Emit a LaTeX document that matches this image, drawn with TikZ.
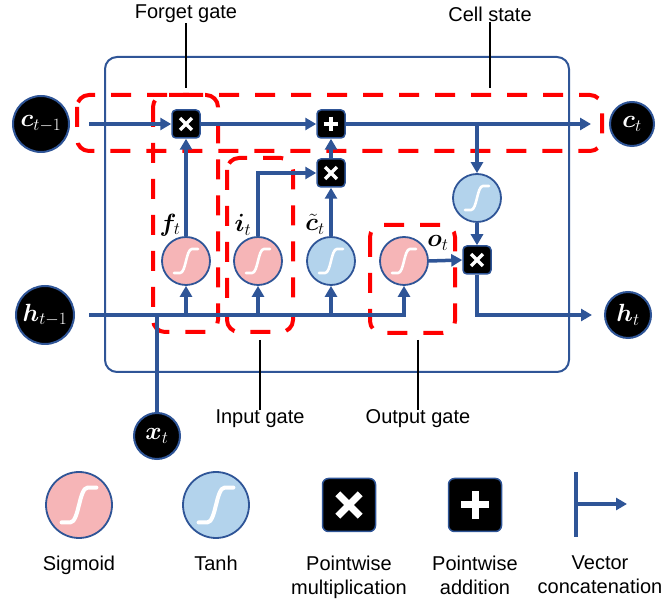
\documentclass[tikz,border=0pt]{standalone}
\usepackage{amsmath,bm}
\usepackage[no-math]{fontspec}
\setmainfont{Liberation Sans}
\usepackage{xcolor}
\definecolor{lstm}{HTML}{2F5597}
\definecolor{sigpink}{HTML}{F6B5B7}
\definecolor{tanhblue}{HTML}{B3D3EC}
\definecolor{gatered}{HTML}{FF0000}
\usetikzlibrary{arrows.meta,positioning,calc}
\tikzset{
  >={Triangle[length=11pt,width=12pt]},
  state/.style  ={circle,fill=black,draw=lstm,line width=2pt,text=white,
                  inner sep=0pt,font=\fontsize{24}{28}\selectfont},
  sig/.style    ={circle,fill=sigpink,draw=lstm,line width=1.8pt,
                  minimum size=48pt,inner sep=0pt},
  tnh/.style    ={sig,fill=tanhblue},
  opbox/.style  ={rectangle,rounded corners=4pt,fill=black,draw=lstm,
                  line width=1.5pt,minimum size=28pt,inner sep=0pt},
  mulbox/.style ={opbox,path picture={
     \draw[white,line width=#1]
      ($(path picture bounding box.center)!.42!(path picture bounding box.south west)$) --
      ($(path picture bounding box.center)!.42!(path picture bounding box.north east)$)
      ($(path picture bounding box.center)!.42!(path picture bounding box.north west)$) --
      ($(path picture bounding box.center)!.42!(path picture bounding box.south east)$);}},
  mulbox/.default=3.5pt,
  addbox/.style ={opbox,path picture={
     \draw[white,line width=#1]
      ($(path picture bounding box.center)!.52!(path picture bounding box.west)$) --
      ($(path picture bounding box.center)!.52!(path picture bounding box.east)$)
      ($(path picture bounding box.center)!.52!(path picture bounding box.north)$) --
      ($(path picture bounding box.center)!.52!(path picture bounding box.south)$);}},
  addbox/.default=4pt,
  flow/.style   ={->,draw=lstm,line width=3.5pt},
  wire/.style   ={draw=lstm,line width=3.5pt},
  gate/.style   ={draw=gatered,line width=4pt,dash pattern=on 20pt off 16pt,
                  rounded corners=12pt},
  lead/.style   ={draw=black,line width=1.2pt},
  lbl/.style    ={font=\fontsize{20}{24}\selectfont,inner sep=0pt,align=center},
  mlbl/.style   ={font=\fontsize{24}{28}\selectfont,inner sep=0pt},
  scurve/.pic   ={\draw[white,line width=#1,line cap=round]
                  (-12,12) -- (-6,12) .. controls (0,12) and (0,-12) .. (6,-12) -- (12,-12);},
}

\begin{document}
\begin{tikzpicture}[x=1pt,y=-1pt]
\useasboundingbox (0,0) rectangle (665,601);
%======================= CELL ===================================
\draw[draw=lstm,line width=2pt,rounded corners=12pt] (105,57) rectangle (569,372);
\draw[gate] (77,95) rectangle (602,151);
\draw[gate] (153,95) rectangle (218,332);
\draw[gate] (227,158) rectangle (293,332);
\draw[gate] (370,225) rectangle (455,333);
% states
\node[state,minimum size=56pt] (ctm) at (41,124) {$\bm{c}_{t-1}$};
\node[state,minimum size=44pt] (ct)  at (632,124) {$\bm{c}_t$};
\node[state,minimum size=58pt] (htm) at (45,315) {$\bm{h}_{t-1}$};
\node[state,minimum size=46pt] (ht)  at (628,315) {$\bm{h}_t$};
\node[state,minimum size=46pt] (xt)  at (157,436) {$\bm{x}_t$};
% pointwise ops
\node[mulbox] (mf)  at (186,124) {};
\node[addbox] (add) at (331,124) {};
\node[mulbox] (mi)  at (331,173) {};
\node[mulbox] (mo)  at (477,260) {};
% layers
\node[sig] (sf) at (186,261) {};
\node[sig] (si) at (258,261) {};
\node[tnh] (tc) at (331,261) {};
\node[sig] (so) at (404,261) {};
\node[tnh] (th) at (477,198) {};
\foreach \g in {sf,si,tc,so,th} \pic at (\g) {scurve=2.6pt};
% wires
\draw[flow,shorten <=14pt] (htm.east) -| (so.south);
\foreach \g in {sf,si,tc} \draw[flow] (\g |- htm) -- (\g.south);
\draw[wire] (xt.north) -- (xt |- htm);
\draw[flow,shorten <=19pt] (ctm.east) -- (mf.west);
\draw[flow] (mf.east) -- (add.west);
\draw[flow,shorten >=18pt] (add.east) -- (ct.west);
\draw[flow] (sf.north) -- (mf.south);
\draw[flow] (si.north) |- (mi.west);
\draw[flow] (tc.north) -- (mi.south);
\draw[flow] (mi.north) -- (add.south);
\coordinate (split) at (th |- add);
\draw[flow] (split) -- (th.north);
\draw[flow] (th.south) -- (mo.north);
\draw[flow] (so.east) -- (mo.west);
\draw[flow,shorten >=12pt] (mo.south) |- (ht.west);
% gate labels
\node[mlbl] (lf) at (170,225) {$\bm{f}_t$};
\node[mlbl] (li) at (243,225) {$\bm{i}_t$};
\node[mlbl] (lc) at (315,224) {$\tilde{\bm{c}}_t$};
\node[mlbl] (lo) at (438,243) {$\bm{o}_t$};
% callouts
\node[lbl] (lfg) at (186,14) {Forget gate};
\node[lbl] (lcs) at (490,14) {Cell state};
\node[lbl] (lig) at (260,419) {Input gate};
\node[lbl] (log) at (418,419) {Output gate};
\coordinate (fgtip) at (186,88);
\coordinate (cstip) at (490,88);
\coordinate (igtip) at (260,340);
\coordinate (ogtip) at (418,340);
\draw[lead] (lfg) -- (fgtip);
\draw[lead] (lcs) -- (cstip);
\draw[lead] (igtip) -- (lig);
\draw[lead] (ogtip) -- (log);
%======================= LEGEND =================================
\node[sig,minimum size=66pt] (lsig)  at (79,505) {};
\node[tnh,minimum size=66pt] (ltanh) at (216,505) {};
\pic[scale=1.45] at (lsig) {scurve=4pt};
\pic[scale=1.45] at (ltanh) {scurve=4pt};
\node[mulbox=7pt,minimum size=53pt,rounded corners=6pt] (lmul) at (349,505) {};
\node[addbox=7pt,minimum size=53pt,rounded corners=6pt] (ladd) at (475,505) {};
\coordinate (cctop) at (576,472);
\coordinate (ccbot) at (576,537);
\coordinate (ccmid) at (576,504);
\coordinate (cctip) at (627,504);
\draw[wire] (cctop) -- (ccbot);
\draw[flow] (ccmid) -- (cctip);
\node[lbl,anchor=north] (tsig)  at (79,556)  {Sigmoid};
\node[lbl,anchor=north] (ttanh) at (216,556) {Tanh};
\node[lbl,anchor=north] (tmul)  at (349,556) {Pointwise\\multiplication};
\node[lbl,anchor=north] (tadd)  at (475,556) {Pointwise\\addition};
\node[lbl,anchor=north] (tcat)  at (600,556) {Vector\\concatenation};
\end{tikzpicture}
\end{document}
